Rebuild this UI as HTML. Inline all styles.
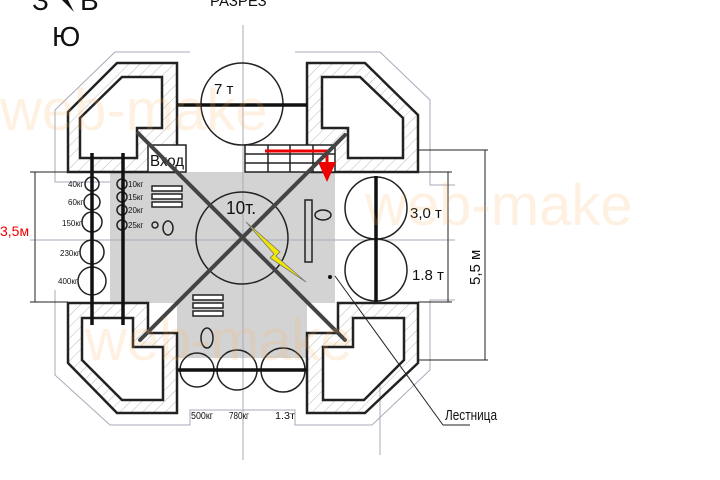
<!DOCTYPE html>
<html><head><meta charset="utf-8"><style>
html,body{margin:0;padding:0;background:#fff;width:720px;height:480px;overflow:hidden}
svg{display:block;font-family:"Liberation Sans",sans-serif}
</style></head><body>
<svg width="720" height="480" viewBox="0 0 720 480" xmlns="http://www.w3.org/2000/svg">
<defs>
<pattern id="h" width="8" height="8" patternUnits="userSpaceOnUse" patternTransform="rotate(45)">
<line x1="0" y1="0" x2="0" y2="8" stroke="#bbb" stroke-width="1"/></pattern>
</defs>
<!-- gray area -->
<rect x="110" y="172" width="225" height="131" fill="#d3d3d3"/>
<rect x="177" y="295" width="130" height="63" fill="#d3d3d3"/>
<!-- thin outer outlines -->
<g fill="none" stroke="#aab" stroke-width="1">
<polyline points="190,52 115,52 55,110 55,182 110,182"/>
<polyline points="295,52 380,52 430,100 430,185 455,185"/>
<polyline points="55,290 55,375 110,425 190,425 190,410 295,410 295,425 372,425 430,370 430,300 455,300"/>
<line x1="243" y1="25" x2="243" y2="460"/>
<line x1="30" y1="240" x2="455" y2="240"/>
<line x1="380" y1="380" x2="380" y2="455"/>
</g>
<!-- corner blocks -->
<g stroke="#222" stroke-width="2.5" fill="url(#h)">
<polygon points="68,172 68,112 117,63 177,63 177,172"/>
<polygon points="307,63 365,63 418,115 418,172 307,172"/>
<polygon points="68,303 148,303 148,333 177,333 177,413 117,413 68,363"/>
<polygon points="418,303 338,303 338,333 307,333 307,413 365,413 418,363"/>
</g>
<g stroke="#222" stroke-width="2.5" fill="#fff">
<polygon points="80,158 80,118 122,77 162,77 162,128 137,128 137,158"/>
<polygon points="322,77 360,77 403,118 403,158 348,158 348,128 322,128"/>
<polygon points="82,318 133,318 133,347 163,347 163,400 122,400 82,360"/>
<polygon points="404,318 353,318 353,347 323,347 323,400 364,400 404,360"/>
</g>
<!-- Vhod -->
<rect x="148" y="145" width="38" height="27" fill="#fff" stroke="#222" stroke-width="1.5"/>
<text x="150" y="166" font-size="16" fill="#111" textLength="34" lengthAdjust="spacingAndGlyphs">Вход</text>
<!-- stairs -->
<g stroke="#222" stroke-width="1.5" fill="#fff">
<rect x="245" y="145" width="90" height="27"/>
<line x1="245" y1="154" x2="335" y2="154"/><line x1="245" y1="163" x2="335" y2="163"/>
<line x1="268" y1="145" x2="268" y2="172"/><line x1="290" y1="145" x2="290" y2="172"/><line x1="313" y1="145" x2="313" y2="172"/>
</g>
<polyline points="265,151 327,151 327,165" fill="none" stroke="#e00" stroke-width="3"/>
<polygon points="318,162 336,162 327,182" fill="#e00"/>
<!-- circles -->
<g fill="none" stroke="#222" stroke-width="1.5">
<circle cx="242" cy="104" r="41"/>
<circle cx="242" cy="238" r="46"/>
<circle cx="376" cy="208" r="31"/>
<circle cx="376" cy="270" r="31"/>
<circle cx="197" cy="370" r="17"/>
<circle cx="237" cy="370" r="20"/>
<circle cx="283" cy="370" r="22"/>
<circle cx="92" cy="184" r="7"/><circle cx="92" cy="202" r="8"/><circle cx="92" cy="222" r="10"/>
<circle cx="92" cy="252" r="12"/><circle cx="92" cy="281" r="14"/>
<circle cx="122" cy="184" r="5"/><circle cx="122" cy="197" r="5"/><circle cx="122" cy="210" r="5"/><circle cx="122" cy="225" r="5"/>
<circle cx="155" cy="225" r="3"/><ellipse cx="168" cy="228" rx="5" ry="7"/>
<ellipse cx="207" cy="338" rx="6" ry="10"/>
<ellipse cx="323" cy="215" rx="8" ry="5"/>
<rect x="305" y="200" width="7" height="62"/>
</g>
<g stroke="#222" stroke-width="1.5" fill="#fff">
<rect x="152" y="186" width="30" height="5"/><rect x="152" y="194" width="30" height="5"/><rect x="152" y="202" width="30" height="5"/>
<rect x="193" y="295" width="30" height="5"/><rect x="193" y="303" width="30" height="5"/><rect x="193" y="311" width="30" height="5"/>
</g>
<!-- thick lines -->
<g stroke="#111" stroke-width="3.5">
<line x1="178" y1="105" x2="307" y2="105"/>
<line x1="376" y1="176" x2="376" y2="302"/>
<line x1="178" y1="370" x2="307" y2="370"/>
<line x1="92" y1="153" x2="92" y2="325"/>
<line x1="123" y1="153" x2="123" y2="325"/>
</g>
<g stroke="#444" stroke-width="4" stroke-linecap="round">
<line x1="138" y1="133" x2="345" y2="340"/>
<line x1="345" y1="135" x2="140" y2="340"/>
</g>
<!-- lightning -->
<polygon points="246,222 280,252 276,256 306,282 270,258 274,254" fill="#f0e800" stroke="#777" stroke-width="0.8"/>
<!-- dimensions -->
<g stroke="#222" stroke-width="1" fill="none">
<line x1="35" y1="172" x2="35" y2="302"/>
<line x1="30" y1="172" x2="110" y2="172"/><line x1="30" y1="302" x2="68" y2="302"/>
<line x1="418" y1="150" x2="488" y2="150"/><line x1="485" y1="150" x2="485" y2="360"/><line x1="418" y1="360" x2="488" y2="360"/>
<line x1="448" y1="172" x2="448" y2="302"/>
<line x1="418" y1="172" x2="452" y2="172"/><line x1="418" y1="302" x2="452" y2="302"/>
<line x1="335" y1="276" x2="443" y2="425"/><line x1="443" y1="425" x2="470" y2="425"/>
</g>
<circle cx="330" cy="277" r="2" fill="#111"/>
<!-- labels -->
<g fill="#111">
<text x="214" y="94" font-size="15">7 т</text>
<text x="226" y="214" font-size="18" textLength="30" lengthAdjust="spacingAndGlyphs">10т.</text>
<text x="410" y="218" font-size="15">3,0 т</text>
<text x="412" y="280" font-size="15">1.8 т</text>
<text x="0" y="236" font-size="14" fill="#e00">3,5м</text>
<text transform="translate(480,285) rotate(-90)" font-size="15">5,5 м</text>
<text x="445" y="420" font-size="15" textLength="52" lengthAdjust="spacingAndGlyphs">Лестница</text>
<text x="191" y="419" font-size="10" textLength="22" lengthAdjust="spacingAndGlyphs">500кг</text>
<text x="229" y="419" font-size="10" textLength="20" lengthAdjust="spacingAndGlyphs">780кг</text>
<text x="275" y="419" font-size="10" textLength="20" lengthAdjust="spacingAndGlyphs">1.3т</text>
<g font-size="8">
<text x="68" y="187">40кг</text><text x="68" y="205">60кг</text><text x="62" y="226">150кг</text>
<text x="60" y="256">230кг</text><text x="58" y="284">400кг</text>
<text x="128" y="187">10кг</text><text x="128" y="200">15кг</text><text x="128" y="213">20кг</text><text x="128" y="228">25кг</text>
</g>
<text x="32" y="10" font-size="28">З</text>
<text x="80" y="10" font-size="28">В</text>
<polygon points="67,-2 74,12 60,-2" fill="#111"/>
<text x="52" y="46" font-size="28">Ю</text>
<text x="210" y="6" font-size="15">РАЗРЕЗ</text>
</g>
<!-- watermarks -->
<g fill="#f9b060" fill-opacity="0.18" font-size="58">
<text x="0" y="130">web-make</text>
<text x="365" y="225">web-make</text>
<text x="85" y="360">web-make</text>
</g>
</svg>
</body></html>
